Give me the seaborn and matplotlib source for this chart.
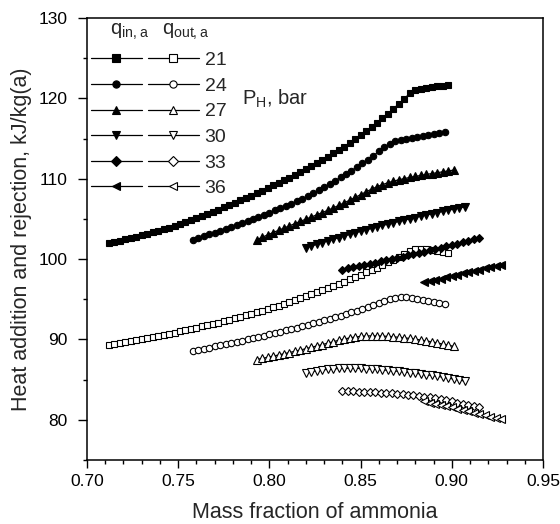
import matplotlib
matplotlib.use("Agg")
import matplotlib.pyplot as plt
from matplotlib.lines import Line2D
from matplotlib.ticker import MultipleLocator, FormatStrFormatter
import seaborn as sns

# ---------------- data ----------------
pressures = ["21", "24", "27", "30", "33", "36"]
markers = ["s", "o", "^", "v", "D", "<"]

x21 = [0.712, 0.715, 0.718, 0.721, 0.724, 0.727, 0.730, 0.733, 0.736, 0.739,
       0.742, 0.745, 0.748, 0.751, 0.754, 0.757, 0.760, 0.763, 0.766, 0.769,
       0.772, 0.775, 0.778, 0.781, 0.784, 0.787, 0.790, 0.793, 0.796, 0.799,
       0.802, 0.805, 0.808, 0.811, 0.814, 0.817, 0.820, 0.823, 0.826, 0.829,
       0.832, 0.835, 0.838, 0.841, 0.844, 0.847, 0.850, 0.853, 0.856, 0.859,
       0.862, 0.865, 0.868, 0.871, 0.874, 0.877, 0.880, 0.883, 0.886, 0.889,
       0.892, 0.895, 0.898]
qin21 = [102.00, 102.15, 102.30, 102.46, 102.62, 102.79, 102.96, 103.14, 103.32, 103.51,
         103.71, 103.92, 104.13, 104.35, 104.58, 104.82, 105.07, 105.33, 105.60, 105.87,
         106.15, 106.43, 106.72, 107.01, 107.31, 107.61, 107.91, 108.22, 108.53, 108.84,
         109.16, 109.48, 109.81, 110.14, 110.48, 110.83, 111.19, 111.56, 111.94, 112.33,
         112.73, 113.14, 113.56, 114.00, 114.45, 114.92, 115.41, 115.91, 116.43, 116.97,
         117.53, 118.11, 118.71, 119.33, 119.97, 120.63, 121.03, 121.15, 121.27, 121.38,
         121.49, 121.59, 121.69]
qout21 = [89.30, 89.42, 89.54, 89.66, 89.78, 89.91, 90.04, 90.17, 90.30, 90.44,
          90.58, 90.72, 90.86, 91.01, 91.16, 91.31, 91.46, 91.62, 91.78, 91.94,
          92.10, 92.27, 92.44, 92.62, 92.80, 92.99, 93.18, 93.38, 93.58, 93.79,
          94.00, 94.22, 94.44, 94.67, 94.90, 95.14, 95.38, 95.63, 95.88, 96.13,
          96.39, 96.65, 96.92, 97.19, 97.47, 97.75, 98.04, 98.34, 98.64, 98.95,
          99.26, 99.58, 99.90, 100.26, 100.62, 100.96, 101.21, 101.25, 101.20, 101.12,
          101.02, 100.90, 100.77]

x24 = [0.758, 0.761, 0.764, 0.767, 0.770, 0.773, 0.776, 0.779, 0.782, 0.785,
       0.788, 0.791, 0.794, 0.797, 0.800, 0.803, 0.806, 0.809, 0.812, 0.815,
       0.818, 0.821, 0.824, 0.827, 0.830, 0.833, 0.836, 0.839, 0.842, 0.845,
       0.848, 0.851, 0.854, 0.857, 0.860, 0.863, 0.866, 0.869, 0.872, 0.875,
       0.878, 0.881, 0.884, 0.887, 0.890, 0.893, 0.896]
qin24 = [102.40, 102.62, 102.84, 103.07, 103.30, 103.53, 103.77, 104.01, 104.25, 104.50,
         104.75, 105.00, 105.26, 105.52, 105.78, 106.05, 106.32, 106.60, 106.88, 107.17,
         107.46, 107.81, 108.18, 108.56, 108.95, 109.35, 109.75, 110.16, 110.58, 111.01,
         111.45, 111.90, 112.37, 112.87, 113.39, 113.89, 114.34, 114.64, 114.82, 114.98,
         115.12, 115.25, 115.37, 115.49, 115.60, 115.70, 115.80]
qout24 = [88.60, 88.73, 88.86, 88.99, 89.13, 89.27, 89.41, 89.55, 89.70, 89.85,
          90.00, 90.15, 90.31, 90.47, 90.63, 90.79, 90.96, 91.13, 91.30, 91.47,
          91.65, 91.83, 92.01, 92.19, 92.38, 92.57, 92.77, 92.97, 93.18, 93.39,
          93.60, 93.82, 94.04, 94.27, 94.50, 94.74, 94.99, 95.21, 95.29, 95.25,
          95.17, 95.07, 94.96, 94.84, 94.71, 94.58, 94.44]

x27 = [0.793, 0.796, 0.799, 0.802, 0.805, 0.808, 0.811, 0.814, 0.817, 0.820,
       0.823, 0.826, 0.829, 0.832, 0.835, 0.838, 0.841, 0.844, 0.847, 0.850,
       0.853, 0.856, 0.859, 0.862, 0.865, 0.868, 0.871, 0.874, 0.877, 0.880,
       0.883, 0.886, 0.889, 0.892, 0.895, 0.898, 0.901]
qin27 = [102.40, 102.71, 103.01, 103.30, 103.58, 103.86, 104.14, 104.42, 104.70, 104.97,
         105.24, 105.51, 105.79, 106.07, 106.37, 106.68, 107.00, 107.33, 107.67, 108.02,
         108.37, 108.70, 109.00, 109.27, 109.50, 109.70, 109.87, 110.02, 110.16, 110.29,
         110.41, 110.53, 110.64, 110.75, 110.86, 110.97, 111.07]
qout27 = [87.50, 87.64, 87.78, 87.92, 88.07, 88.22, 88.37, 88.53, 88.69, 88.85,
          89.02, 89.19, 89.36, 89.54, 89.72, 89.89, 90.05, 90.19, 90.30, 90.38,
          90.43, 90.45, 90.44, 90.42, 90.38, 90.33, 90.27, 90.20, 90.12, 90.03,
          89.93, 89.82, 89.70, 89.57, 89.43, 89.29, 89.14]

x30 = [0.820, 0.823, 0.826, 0.829, 0.832, 0.835, 0.838, 0.841, 0.844, 0.847,
       0.850, 0.853, 0.856, 0.859, 0.862, 0.865, 0.868, 0.871, 0.874, 0.877,
       0.880, 0.883, 0.886, 0.889, 0.892, 0.895, 0.898, 0.901, 0.904, 0.907]
qin30 = [101.40, 101.62, 101.84, 102.05, 102.26, 102.47, 102.67, 102.87, 103.07, 103.26,
         103.45, 103.64, 103.82, 104.00, 104.18, 104.35, 104.52, 104.69, 104.85, 105.01,
         105.17, 105.33, 105.48, 105.63, 105.78, 105.93, 106.08, 106.22, 106.36, 106.50]
qout30 = [85.85, 85.99, 86.11, 86.21, 86.29, 86.35, 86.39, 86.41, 86.42, 86.41,
          86.39, 86.36, 86.32, 86.27, 86.22, 86.16, 86.10, 86.03, 85.96, 85.88,
          85.80, 85.71, 85.62, 85.52, 85.42, 85.31, 85.20, 85.08, 84.96, 84.83]

x33 = [0.840, 0.843, 0.846, 0.849, 0.852, 0.855, 0.858, 0.861, 0.864, 0.867,
       0.870, 0.873, 0.876, 0.879, 0.882, 0.885, 0.888, 0.891, 0.894, 0.897,
       0.900, 0.903, 0.906, 0.909, 0.912, 0.915]
qin33 = [98.70, 98.84, 98.98, 99.12, 99.26, 99.41, 99.56, 99.71, 99.86, 100.01,
         100.16, 100.31, 100.46, 100.62, 100.78, 100.94, 101.10, 101.26, 101.42, 101.59,
         101.76, 101.93, 102.10, 102.27, 102.44, 102.61]
qout33 = [83.55, 83.54, 83.53, 83.51, 83.49, 83.46, 83.43, 83.39, 83.35, 83.30,
          83.25, 83.19, 83.13, 83.06, 82.99, 82.89, 82.78, 82.66, 82.54, 82.41,
          82.28, 82.14, 82.00, 81.85, 81.70, 81.55]

x36 = [0.885, 0.888, 0.891, 0.894, 0.897, 0.900, 0.903, 0.906, 0.909, 0.912,
       0.915, 0.918, 0.921, 0.924, 0.927]
qin36 = [97.10, 97.26, 97.42, 97.58, 97.74, 97.90, 98.06, 98.21, 98.37, 98.53,
         98.68, 98.84, 98.99, 99.15, 99.30]
qout36 = [82.30, 82.15, 82.00, 81.85, 81.70, 81.54, 81.38, 81.22, 81.06, 80.90,
          80.73, 80.56, 80.39, 80.22, 80.05]

xs = [x21, x24, x27, x30, x33, x36]
qins = [qin21, qin24, qin27, qin30, qin33, qin36]
qouts = [qout21, qout24, qout27, qout30, qout33, qout36]

xlabel = "Mass fraction of ammonia"
ylabel = "Heat addition and rejection, kJ/kg(a)"

# ---------------- style ----------------
sns.set_style("ticks")
plt.rcParams["font.family"] = ["Liberation Sans", "DejaVu Sans"]
plt.rcParams["axes.linewidth"] = 1.1

fig = plt.figure(figsize=(5.6, 5.24), dpi=100)
ax = fig.add_axes([87 / 560, 1 - 460 / 524, 456 / 560, 442 / 524])

ms = {"s": 4.6, "o": 4.6, "^": 5.2, "v": 5.2, "D": 4.0, "<": 5.2}
line_kw = dict(color="black", linewidth=0.9, markeredgecolor="black",
               markeredgewidth=0.8)

filled_handles, open_handles = [], []
for x, qi, qo, m in zip(xs, qins, qouts, markers):
    sns.lineplot(x=x, y=qi, ax=ax, marker=m, markersize=ms[m],
                 markerfacecolor="black", sort=False, estimator=None,
                 legend=False, **line_kw)
    sns.lineplot(x=x, y=qo, ax=ax, marker=m, markersize=ms[m],
                 markerfacecolor="white", sort=False, estimator=None,
                 legend=False, **line_kw)
    filled_handles.append(Line2D([], [], marker=m, markersize=ms[m] + 0.6,
                                 markerfacecolor="black", **line_kw))
    open_handles.append(Line2D([], [], marker=m, markersize=ms[m] + 0.6,
                               markerfacecolor="white", **line_kw))

ax.set_xlim(0.70, 0.95)
ax.set_ylim(75, 130)
ax.xaxis.set_major_locator(MultipleLocator(0.05))
ax.xaxis.set_minor_locator(MultipleLocator(0.01))
ax.yaxis.set_major_locator(MultipleLocator(10))
ax.yaxis.set_minor_locator(MultipleLocator(5))
ax.xaxis.set_major_formatter(FormatStrFormatter("%.2f"))
ax.yaxis.set_major_formatter(FormatStrFormatter("%d"))

ax.tick_params(axis="both", which="both", direction="out", top=False,
               right=False, width=1.0, labelsize=12.5, colors="black")
ax.tick_params(axis="x", which="major", length=5.7, pad=4.5)
ax.tick_params(axis="y", which="major", length=6.8, pad=7.0)
ax.tick_params(axis="both", which="minor", length=3.2)
for s in ax.spines.values():
    s.set_visible(True)
    s.set_color("black")

ax.set_xlabel(xlabel, fontsize=15.5, labelpad=9)
ax.set_ylabel(ylabel, fontsize=15.5, labelpad=5)

leg = ax.legend(filled_handles + open_handles,
                [""] * 6 + pressures,
                ncol=2, loc="upper left", bbox_to_anchor=(0.0088, 0.924),
                frameon=False, borderaxespad=0, borderpad=0,
                handlelength=2.62, handletextpad=0.3, columnspacing=0.0,
                labelspacing=0.41, fontsize=14, numpoints=1)

ax.text(0.0504, 0.9615, r"q$_\mathregular{in,a}$", transform=ax.transAxes,
        fontsize=14.5, ha="left", va="baseline")
ax.text(0.1645, 0.9615, r"q$_\mathregular{out,a}$", transform=ax.transAxes,
        fontsize=14.5, ha="left", va="baseline")
ax.text(0.340, 0.803, r"P$_\mathregular{H}$, bar", transform=ax.transAxes,
        fontsize=14.5, ha="left", va="baseline")

fig.savefig("out.png", dpi=100)
